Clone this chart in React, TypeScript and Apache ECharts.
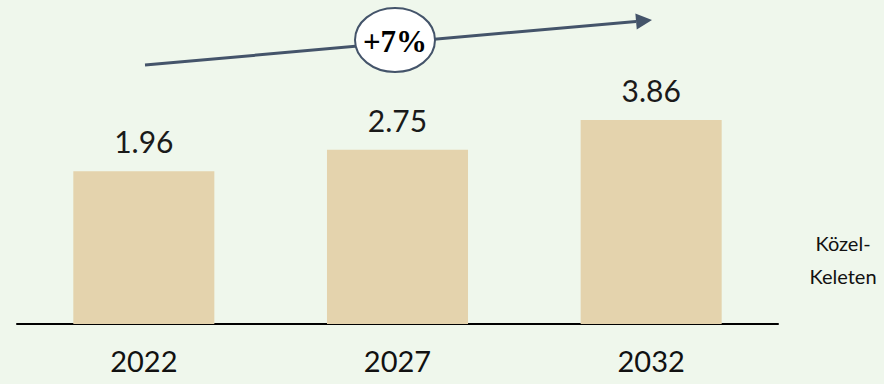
import React, { useEffect, useRef } from "react";
import * as echarts from "echarts";

const categories = ["2022", "2027", "2032"];
const values = [1.96, 2.75, 3.86];
const growthLabel = "+7%";
const regionLabel = ["Közel-", "Keleten"];

const Y_MIN = -3.7;
const Y_MAX = 8.3;
const BG = "#eff7ec";
const BAR = "#e4d3ad";
const FONT = "Lato, 'Open Sans', sans-serif";

export default function App() {
  const ref = useRef<HTMLDivElement>(null);

  useEffect(() => {
    document.body.style.margin = "0";
    document.body.style.background = BG;
    const chart = echarts.init(ref.current as HTMLDivElement, null, { renderer: "svg" });

    const tip = [652, 20];
    const start = [145, 65];
    const dx = tip[0] - start[0];
    const dy = tip[1] - start[1];
    const len = Math.sqrt(dx * dx + dy * dy);
    const ux = dx / len;
    const uy = dy / len;
    const headLen = 16;
    const headHalf = 8;
    const bx = tip[0] - ux * headLen;
    const by = tip[1] - uy * headLen;
    const px = -uy;
    const py = ux;

    chart.setOption({
      animation: false,
      backgroundColor: BG,
      grid: { left: 17, right: 106, top: 0, bottom: 60 },
      xAxis: {
        type: "category",
        data: categories,
        axisLine: { show: true, onZero: false, lineStyle: { color: "#000", width: 2 } },
        axisTick: { show: false },
        axisLabel: { fontSize: 29, color: "#111", fontFamily: FONT, margin: 22 },
      },
      yAxis: {
        type: "value",
        min: Y_MIN,
        max: Y_MAX,
        show: false,
        splitLine: { show: false },
      },
      series: [
        {
          type: "custom",
          data: values.map((v, i) => [i, v]),
          renderItem: (params: any, api: any) => {
            const idx = api.value(0);
            const v = api.value(1);
            const top = api.coord([idx, v]);
            const bottom = api.coord([idx, Y_MIN]);
            const w = api.size([1, 0])[0] * 0.556;
            return {
              type: "group",
              children: [
                {
                  type: "rect",
                  shape: { x: top[0] - w / 2, y: top[1], width: w, height: bottom[1] - top[1] },
                  style: { fill: BAR },
                },
                {
                  type: "text",
                  style: {
                    text: v.toFixed(2),
                    x: top[0],
                    y: top[1] - 15,
                    align: "center",
                    verticalAlign: "bottom",
                    textAlign: "center",
                    textVerticalAlign: "bottom",
                    fontSize: 30,
                    fontFamily: FONT,
                    fill: "#1a1a1a",
                  },
                },
              ],
            };
          },
        },
      ],
      graphic: [
        {
          type: "line",
          shape: { x1: start[0], y1: start[1], x2: bx, y2: by },
          style: { stroke: "#44546a", lineWidth: 3 },
        },
        {
          type: "polygon",
          shape: {
            points: [
              [tip[0], tip[1]],
              [bx + px * headHalf, by + py * headHalf],
              [bx - px * headHalf, by - py * headHalf],
            ],
          },
          style: { fill: "#44546a" },
        },
        {
          type: "ellipse",
          shape: { cx: 395, cy: 40, rx: 40, ry: 32 },
          style: { fill: "#ffffff", stroke: "#44546a", lineWidth: 2 },
        },
        {
          type: "text",
          style: {
            text: growthLabel,
            x: 395,
            y: 41,
            align: "center",
            verticalAlign: "middle",
            textAlign: "center",
            textVerticalAlign: "middle",
            fontSize: 31,
            fontWeight: "bold",
            fontFamily: "'Liberation Serif', 'DejaVu Serif', serif",
            fill: "#000",
          },
        },
        {
          type: "text",
          style: {
            text: regionLabel.join("\n"),
            x: 843,
            y: 259,
            align: "center",
            verticalAlign: "middle",
            textAlign: "center",
            textVerticalAlign: "middle",
            fontSize: 20,
            lineHeight: 33,
            fontFamily: FONT,
            fill: "#111",
          },
        },
      ],
    });
    return () => chart.dispose();
  }, []);

  return <div ref={ref} style={{ width: 884, height: 384 }} />;
}
